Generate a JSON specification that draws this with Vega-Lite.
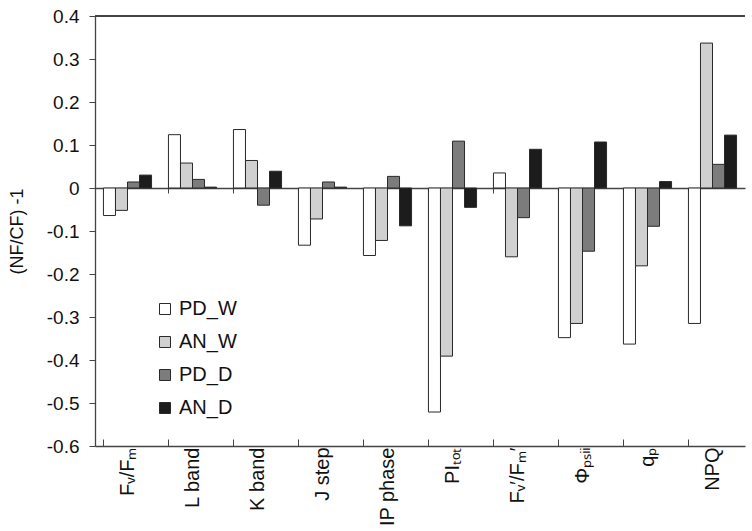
{
  "$schema": "https://vega.github.io/schema/vega-lite/v6.json",
  "width": 650,
  "height": 430,
  "padding": {"left": 8, "top": 7, "right": 0, "bottom": 0},
  "autosize": {"type": "pad"},
  "config": {
    "font": "Liberation Sans",
    "view": {"stroke": null},
    "axis": {"labelColor": "#111", "tickColor": "#444", "domainColor": "#444", "domainWidth": 1.3, "titleColor": "#111", "grid": false}
  },
  "data": {
    "values": [
      {"param": "Fᵥ/Fₘ", "series": "PD_W", "value": -0.064},
      {"param": "Fᵥ/Fₘ", "series": "AN_W", "value": -0.052},
      {"param": "Fᵥ/Fₘ", "series": "PD_D", "value": 0.014},
      {"param": "Fᵥ/Fₘ", "series": "AN_D", "value": 0.030},
      {"param": "L band", "series": "PD_W", "value": 0.124},
      {"param": "L band", "series": "AN_W", "value": 0.058},
      {"param": "L band", "series": "PD_D", "value": 0.020},
      {"param": "L band", "series": "AN_D", "value": 0.002},
      {"param": "K band", "series": "PD_W", "value": 0.136},
      {"param": "K band", "series": "AN_W", "value": 0.064},
      {"param": "K band", "series": "PD_D", "value": -0.040},
      {"param": "K band", "series": "AN_D", "value": 0.039},
      {"param": "J step", "series": "PD_W", "value": -0.133},
      {"param": "J step", "series": "AN_W", "value": -0.072},
      {"param": "J step", "series": "PD_D", "value": 0.014},
      {"param": "J step", "series": "AN_D", "value": 0.002},
      {"param": "IP phase", "series": "PD_W", "value": -0.157},
      {"param": "IP phase", "series": "AN_W", "value": -0.122},
      {"param": "IP phase", "series": "PD_D", "value": 0.027},
      {"param": "IP phase", "series": "AN_D", "value": -0.088},
      {"param": "PIₜₒₜ", "series": "PD_W", "value": -0.521},
      {"param": "PIₜₒₜ", "series": "AN_W", "value": -0.391},
      {"param": "PIₜₒₜ", "series": "PD_D", "value": 0.109},
      {"param": "PIₜₒₜ", "series": "AN_D", "value": -0.045},
      {"param": "Fᵥ′/Fₘ′", "series": "PD_W", "value": 0.035},
      {"param": "Fᵥ′/Fₘ′", "series": "AN_W", "value": -0.160},
      {"param": "Fᵥ′/Fₘ′", "series": "PD_D", "value": -0.069},
      {"param": "Fᵥ′/Fₘ′", "series": "AN_D", "value": 0.090},
      {"param": "Φₚₛᵢᵢ", "series": "PD_W", "value": -0.348},
      {"param": "Φₚₛᵢᵢ", "series": "AN_W", "value": -0.315},
      {"param": "Φₚₛᵢᵢ", "series": "PD_D", "value": -0.147},
      {"param": "Φₚₛᵢᵢ", "series": "AN_D", "value": 0.107},
      {"param": "qₚ", "series": "PD_W", "value": -0.363},
      {"param": "qₚ", "series": "AN_W", "value": -0.181},
      {"param": "qₚ", "series": "PD_D", "value": -0.089},
      {"param": "qₚ", "series": "AN_D", "value": 0.015},
      {"param": "NPQ", "series": "PD_W", "value": -0.315},
      {"param": "NPQ", "series": "AN_W", "value": 0.337},
      {"param": "NPQ", "series": "PD_D", "value": 0.055},
      {"param": "NPQ", "series": "AN_D", "value": 0.123}
    ]
  },
  "resolve": {"axis": {"x": "independent"}},
  "layer": [
    {
      "mark": {"type": "bar", "stroke": "#2a2a2a", "strokeWidth": 1},
      "encoding": {
        "x": {
          "field": "param",
          "type": "nominal",
          "sort": ["Fᵥ/Fₘ", "L band", "K band", "J step", "IP phase", "PIₜₒₜ", "Fᵥ′/Fₘ′", "Φₚₛᵢᵢ", "qₚ", "NPQ"],
          "scale": {"paddingInner": 0.26, "paddingOuter": 0.13},
          "axis": {
            "orient": "bottom",
            "title": null,
            "labelAngle": -90,
            "labelFontSize": 20,
            "bandPosition": 0,
            "tickSize": -7,
            "labelPadding": 8,
            "domain": true
          }
        },
        "xOffset": {
          "field": "series",
          "sort": ["PD_W", "AN_W", "PD_D", "AN_D"],
          "scale": {"paddingInner": 0, "paddingOuter": 0}
        },
        "y": {
          "field": "value",
          "type": "quantitative",
          "scale": {"domain": [-0.6, 0.4], "nice": false, "zero": false},
          "axis": {
            "title": "(NF/CF) -1",
            "titleFontSize": 18,
            "titleFontWeight": "normal",
            "titlePadding": 20,
            "values": [-0.6, -0.5, -0.4, -0.3, -0.2, -0.1, 0, 0.1, 0.2, 0.3, 0.4],
            "labelExpr": "datum.value == 0 ? '0' : replace(format(datum.value, '.1f'), '−', '-')",
            "labelFontSize": 19,
            "tickSize": 6,
            "labelPadding": 10,
            "domain": true
          }
        },
        "fill": {
          "field": "series",
          "type": "nominal",
          "scale": {"domain": ["PD_W", "AN_W", "PD_D", "AN_D"], "range": ["#ffffff", "#d0d0d0", "#7c7c7c", "#1c1c1c"]},
          "legend": {
            "title": null,
            "orient": "none",
            "legendX": 60,
            "legendY": 283,
            "symbolType": "square",
            "symbolSize": 121,
            "symbolStrokeColor": "#2a2a2a",
            "symbolStrokeWidth": 1,
            "labelFontSize": 20,
            "labelOffset": 4,
            "rowPadding": 13,
            "labelColor": "#111"
          }
        }
      }
    },
    {
      "mark": {"type": "bar", "opacity": 0},
      "encoding": {
        "x": {
          "field": "param",
          "type": "nominal",
          "sort": ["Fᵥ/Fₘ", "L band", "K band", "J step", "IP phase", "PIₜₒₜ", "Fᵥ′/Fₘ′", "Φₚₛᵢᵢ", "qₚ", "NPQ"],
          "axis": {
            "orient": "top",
            "offset": -172,
            "title": null,
            "labels": false,
            "bandPosition": 0,
            "tickSize": -5,
            "domain": true
          }
        },
        "y": {"datum": 0}
      }
    },
    {
      "mark": {"type": "rule", "color": "#444", "strokeWidth": 1.3},
      "encoding": {"y": {"datum": 0.4}}
    }
  ]
}
